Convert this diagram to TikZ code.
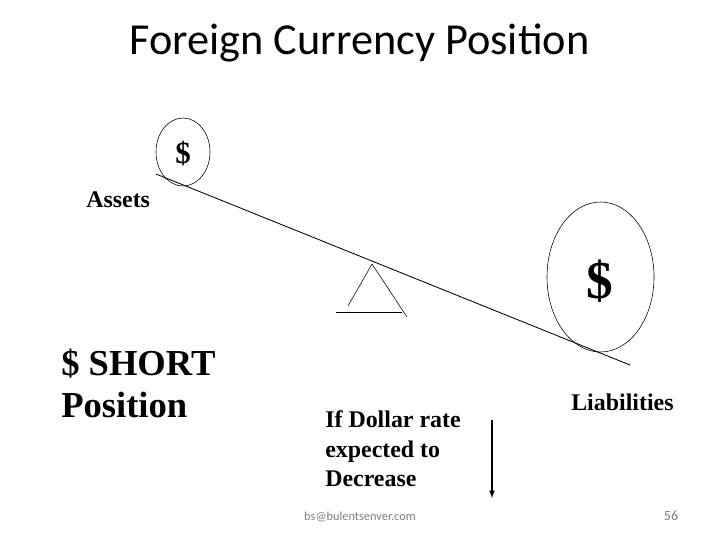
\documentclass[tikz,border=0pt]{standalone}
\usepackage{fontspec}
\usetikzlibrary{shapes.geometric}
\setmainfont{Liberation Serif}
\newfontfamily\slidefont{Carlito}
\tikzset{
  label/.style={inner sep=0pt,anchor=base west,font=\fontsize{17}{21}\selectfont\bfseries},
  bigline/.style={inner sep=0pt,anchor=base west,font=\fontsize{26}{30}\selectfont\bfseries},
  foot/.style={inner sep=0pt,text=gray,font=\slidefont\fontsize{8.8}{11}\selectfont},
  load/.style={draw,ellipse,inner sep=0pt}
}
\begin{document}
\begin{tikzpicture}[x=0.025cm,y=-0.025cm]
\path[use as bounding box] (0,0) rectangle (720,540);

\node[inner sep=0pt,font=\slidefont\fontsize{31.5}{36}\selectfont] (title) at (359.5,43) {Foreign Currency Position};

\coordinate (beamL) at (156,174);
\coordinate (beamR) at (630,365);
\path[draw,semithick] (beamL) -- (beamR);

\node[load,minimum width=1.35cm,minimum height=1.7cm] (smallload) at (183,152) {};
\node[load,minimum width=2.675cm,minimum height=3.75cm] (bigload) at (600.5,277) {};
\node[inner sep=0pt,font=\fontsize{22}{22}\selectfont\bfseries] (smallsign) at (183,153) {\$};
\node[inner sep=0pt,font=\fontsize{38}{38}\selectfont\bfseries] (bigsign) at (600,281) {\$};

\coordinate (apex) at (372,264);
\coordinate (footL) at (348,306);
\coordinate (footR) at (407,317);
\coordinate (baseL) at (336,312);
\coordinate (baseR) at (402,312);
\path[draw] (footL) -- (apex);
\path[draw] (apex) -- (footR);
\path[draw,semithick] (baseL) -- (baseR);

\node[label] (assets) at (86,207) {Assets};
\node[label] (liabilities) at (571,410) {Liabilities};
\node[bigline] (short) at (61,375) {\$ SHORT};
\node[bigline] (position) at (61,417) {Position};
\node[label] (rate1) at (325,427) {If Dollar rate};
\node[label] (rate2) at (325,457) {expected to};
\node[label] (rate3) at (325,486) {Decrease};

\coordinate (arrowT) at (492,420);
\coordinate (arrowB) at (492,498);
\path[draw,thick,-latex] (arrowT) -- (arrowB);

\node[foot] (mail) at (360,517) {bs@bulentsenver.com};
\node[foot,font=\slidefont\fontsize{10}{11}\selectfont] (page) at (671,516) {56};
\end{tikzpicture}
\end{document}
